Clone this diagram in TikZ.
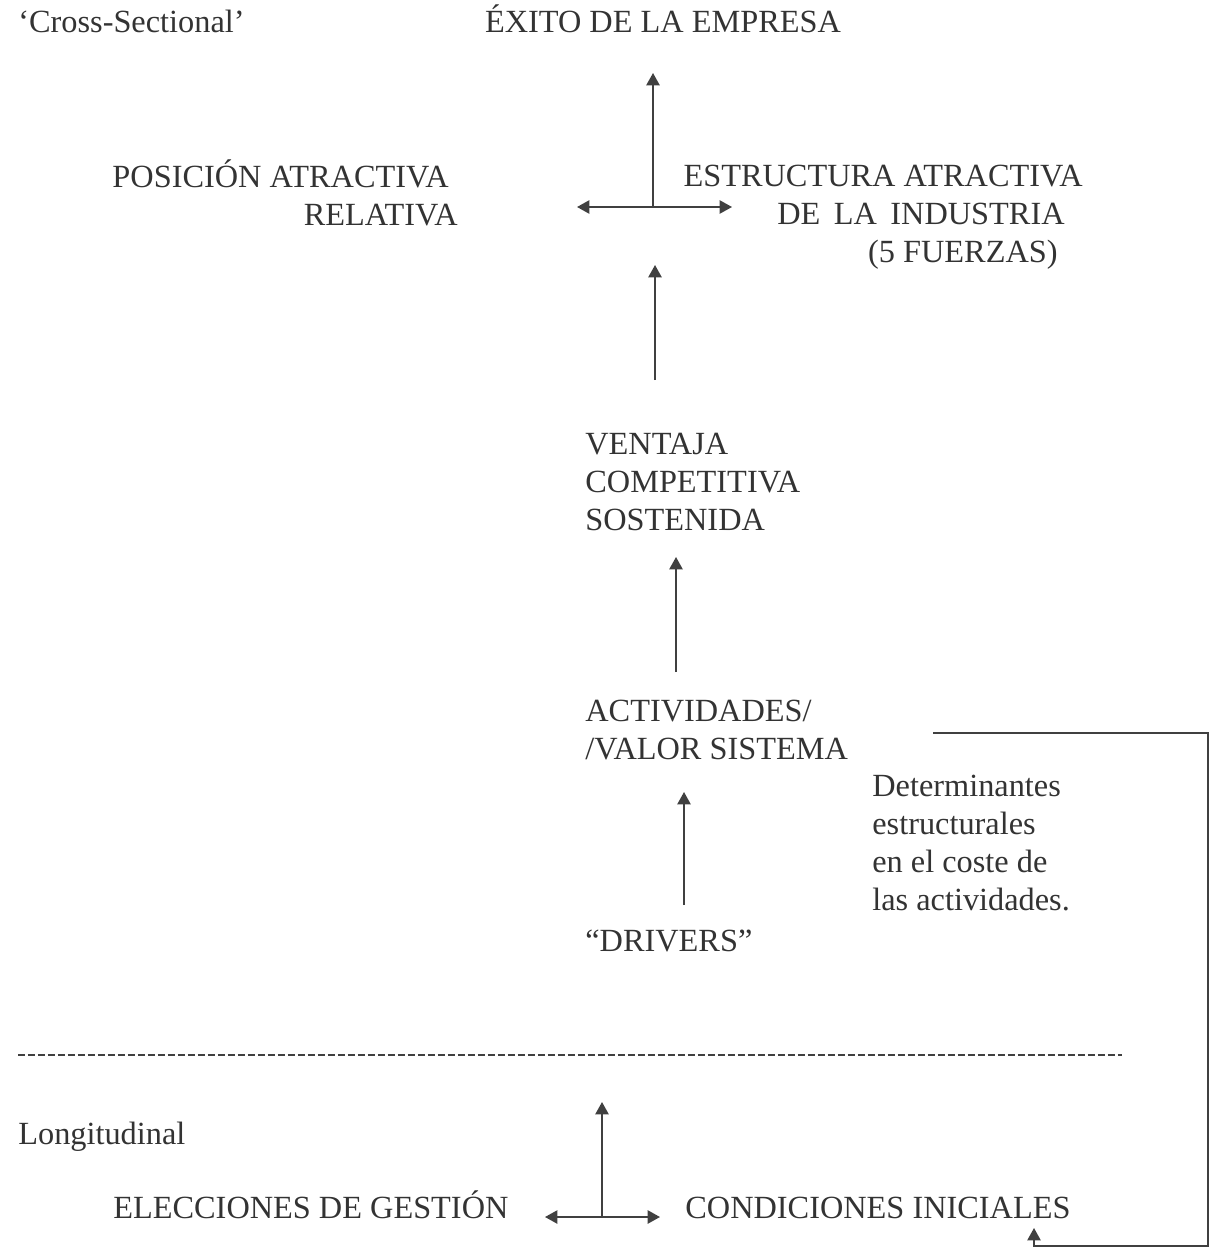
\documentclass[tikz,border=0pt]{standalone}
\usepackage{fontspec}
\setmainfont{Liberation Serif}
\usetikzlibrary{arrows.meta}

\begin{document}
\begin{tikzpicture}[x=0.02cm,y=-0.02cm,>={Triangle[length=7pt,width=7.5pt]},
    every node/.style={inner sep=0pt,text=black!80,text height=0.66em,text depth=0pt,font=\fontsize{18.4}{21.6}\selectfont},
    flecha/.style={->,line width=1pt,draw=black!75}]
    \useasboundingbox (0,0) rectangle (1216,1250);
    % textos
    \node[anchor=west] (cross) at (18,27) {‘Cross-Sectional’};
    \node (exito) at (663,27) {ÉXITO DE LA EMPRESA};
    \node[anchor=east,align=right] (posicion) at (458,220) {POSICIÓN ATRACTIVA\kern0.18cm\\RELATIVA};
    \node[anchor=east,align=right] (estructura) at (1083,257) {ESTRUCTURA ATRACTIVA\\DE\, LA\, INDUSTRIA\kern0.36cm\\(5 FUERZAS)\kern0.5cm};
    \node[anchor=west,align=left] (ventaja) at (585,525) {VENTAJA\\COMPETITIVA\\SOSTENIDA};
    \node[anchor=west,align=left] (activ) at (585,754) {ACTIVIDADES/\\/VALOR SISTEMA};
    \node[anchor=west,align=left] (determ) at (872,905) {Determinantes\\estructurales\\en el coste de\\las actividades.};
    \node[anchor=west] (drivers) at (585,946) {“DRIVERS”};
    \node[anchor=west] (longit) at (18,1139) {Longitudinal};
    \node[anchor=west] (elecc) at (113,1213) {ELECCIONES DE GESTIÓN};
    \node[anchor=west] (condic) at (685,1213) {CONDICIONES INICIALES};
    % extremos de las flechas
    \coordinate (cruz1) at (653,207);
    \coordinate (up1) at (653,73);
    \coordinate (izq1) at (577,207);
    \coordinate (der1) at (732,207);
    \coordinate (v1) at (655,380);
    \coordinate (v1e) at (655,265);
    \coordinate (v2) at (676,672);
    \coordinate (v2e) at (676,557);
    \coordinate (v3) at (684,905);
    \coordinate (v3e) at (684,792);
    \coordinate (cruz2) at (602,1217);
    \coordinate (up2) at (602,1102);
    \coordinate (izq2) at (545,1217);
    \coordinate (der2) at (660,1217);
    \coordinate (fb) at (933,733);
    \coordinate (fbr) at (1208,1246);
    \coordinate (fbe) at (1034,1228);
    \coordinate (dl) at (18,1055);
    \coordinate (dr) at (1122,1055);
    % flechas
    \draw[flecha] (cruz1)--(up1);
    \draw[flecha,<->] (izq1)--(der1);
    \draw[flecha] (v1)--(v1e);
    \draw[flecha] (v2)--(v2e);
    \draw[flecha] (v3)--(v3e);
    \draw[flecha] (cruz2)--(up2);
    \draw[flecha,<->] (izq2)--(der2);
    \draw[flecha] (fb) -| (fbr) -| (fbe);
    \draw[line width=1pt,draw=black!75,dash pattern=on 0.14cm off 0.06cm] (dl)--(dr);
\end{tikzpicture}
\end{document}
